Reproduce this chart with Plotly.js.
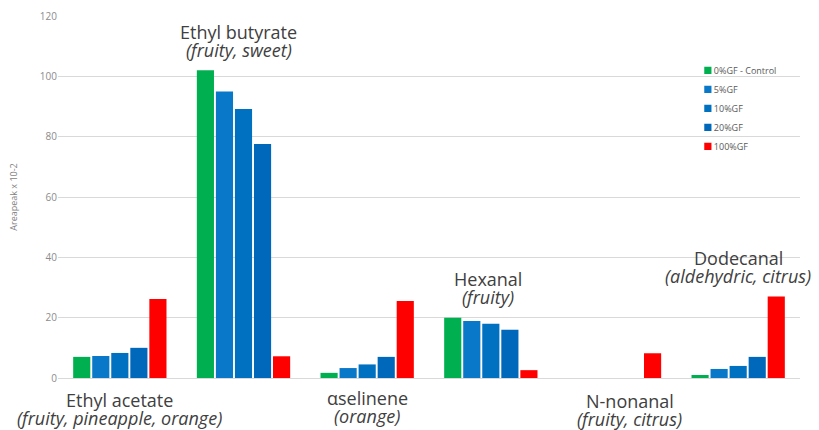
<!DOCTYPE html>
<html><head><meta charset="utf-8">
<script src="https://cdn.plot.ly/plotly-3.0.1.min.js"></script>
<style>body{margin:0;background:#fff}#c{width:819px;height:430px}</style>
</head><body><div id="c"></div>
<script>
const categories = ["Ethyl acetate","Ethyl butyrate","αselinene","Hexanal","N-nonanal","Dodecanal"];
const descriptions = ["(fruity, pineapple, orange)","(fruity, sweet)","(orange)","(fruity)","(fruity, citrus)","(aldehydric, citrus)"];
const seriesNames = ["0%GF - Control","5%GF","10%GF","20%GF","100%GF"];
const gf0   = [7.0, 102, 1.7, 20.0, 0, 1.0];
const gf5   = [7.3, 95.0, 3.3, 18.9, 0, 3.0];
const gf10  = [8.3, 89.2, 4.5, 18.0, 0, 4.0];
const gf20  = [10.0, 77.6, 7.0, 16.0, 0, 7.0];
const gf100 = [26.2, 7.2, 25.5, 2.6, 8.2, 27.0];
const yTicks = [0,20,40,60,80,100,120];

const colors = ["#00B050","#0A78C8","#0070C0","#0068BA","#FF0000"];
const values = [gf0,gf5,gf10,gf20,gf100];
const traces = values.map((v,i)=>({
  type:"bar", x:categories, y:v, name:seriesNames[i],
  marker:{color:colors[i]}, hoverinfo:"skip"
}));

const labelPos = [
  {xs:0, y1:400},
  {xs:-5, y1:32},
  {xs:0, y1:398},
  {xs:-3, y1:279},
  {xs:15, y1:401},
  {xs:0, y1:258}
];
const plotTop=16, plotH=362;
const toPaper = px => (plotTop+plotH-px)/plotH;
const FONT = "'Open Sans', sans-serif";
const annotations=[];
categories.forEach((c,i)=>{
  const p=labelPos[i];
  annotations.push({xref:"x",yref:"paper",x:c,y:toPaper(p.y1),xshift:p.xs,text:c,showarrow:false,
    yanchor:"middle",font:{family:FONT,size:18,color:"#404040"}});
  annotations.push({xref:"x",yref:"paper",x:c,y:toPaper(p.y1+18),xshift:p.xs,text:"<i>"+descriptions[i]+"</i>",showarrow:false,
    yanchor:"middle",font:{family:FONT,size:18,color:"#404040"}});
});

const layout={
  width:819,height:430,
  margin:{l:58,r:19,t:16,b:52},
  paper_bgcolor:"#fff",plot_bgcolor:"#fff",
  barmode:"group",bargap:0.23,bargroupgap:0.1,
  showlegend:true,
  legend:{x:0.83,y:0.89,xanchor:"left",yanchor:"top",bgcolor:"rgba(0,0,0,0)",
    font:{family:FONT,size:9,color:"#595959"},itemwidth:30,tracegroupgap:0},
  xaxis:{range:[-0.5,categories.length-0.5],autorange:false,showticklabels:false,ticks:"",showgrid:false,zeroline:false,showline:false,fixedrange:true,automargin:false},
  yaxis:{range:[0,120],autorange:false,tickvals:yTicks,ticktext:yTicks.map(String),showgrid:true,gridcolor:"#d9d9d9",gridwidth:1,
    zeroline:true,zerolinecolor:"#d9d9d9",zerolinewidth:1,showline:false,ticks:"",ticklen:0,automargin:false,
    tickfont:{family:FONT,size:10,color:"#8c8c8c"},
    title:{text:"Areapeak x 10-2",font:{family:FONT,size:9,color:"#7f7f7f"},standoff:20}},
  annotations:annotations
};
Plotly.newPlot("c",traces,layout,{staticPlot:true,displayModeBar:false}).then(gd=>{
  gd.querySelectorAll('.legend .legendpoints path').forEach(p=>{
    p.setAttribute('transform', (p.getAttribute('transform')||'') + ' translate(14,0) scale(0.6)');
  });
});
</script></body></html>
